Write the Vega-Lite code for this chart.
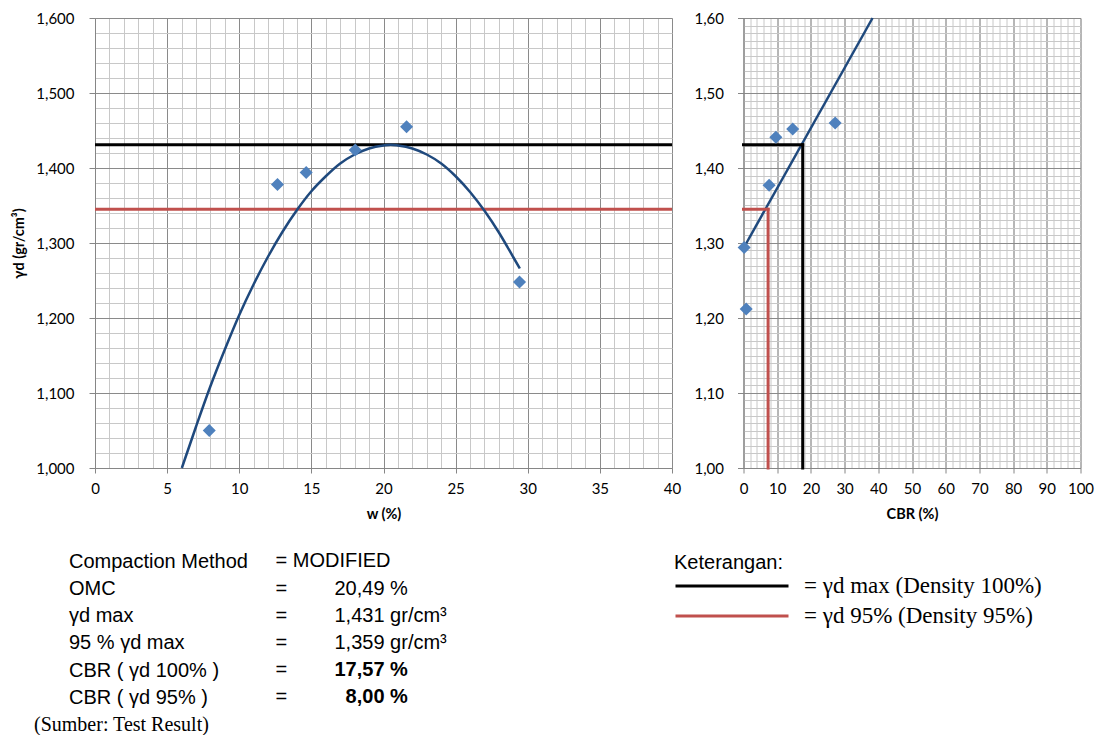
{
  "$schema": "https://vega.github.io/schema/vega-lite/v6.json",
  "padding": {"left": 11, "top": 11, "right": 5, "bottom": 0},
  "background": "white",
  "config": {
    "view": {"stroke": null},
    "axis": {
      "labelFont": "Lato", "labelFontSize": 15, "labelColor": "#000000",
      "titleFont": "Lato", "titleFontSize": 14.5, "titleFontWeight": "bold", "titleColor": "#000000",
      "domainColor": "#868686", "tickColor": "#868686", "gridColor": "#8a8a8a",
      "labelFlush": false, "labelOverlap": false
    }
  },
  "datasets": {
    "points_w": [
      {"w": 7.92, "gd": 1.050},
      {"w": 12.65, "gd": 1.378},
      {"w": 14.64, "gd": 1.394},
      {"w": 18.04, "gd": 1.424},
      {"w": 21.6, "gd": 1.455},
      {"w": 29.43, "gd": 1.248}
    ],
    "curve_w": [
      {"w": 6.02, "gd": 1.000}, {"w": 7, "gd": 1.055}, {"w": 8, "gd": 1.109}, {"w": 9, "gd": 1.158},
      {"w": 10, "gd": 1.204}, {"w": 11, "gd": 1.245}, {"w": 12, "gd": 1.282}, {"w": 13, "gd": 1.315},
      {"w": 14, "gd": 1.344}, {"w": 15, "gd": 1.369}, {"w": 16, "gd": 1.389}, {"w": 17, "gd": 1.406},
      {"w": 18, "gd": 1.418}, {"w": 19, "gd": 1.426}, {"w": 20, "gd": 1.430}, {"w": 20.5, "gd": 1.431},
      {"w": 21, "gd": 1.430}, {"w": 22, "gd": 1.426}, {"w": 23, "gd": 1.418}, {"w": 24, "gd": 1.406},
      {"w": 25, "gd": 1.389}, {"w": 26, "gd": 1.368}, {"w": 27, "gd": 1.343}, {"w": 28, "gd": 1.314},
      {"w": 29, "gd": 1.281}, {"w": 29.45, "gd": 1.266}
    ],
    "levels": [
      {"level": "γd max (Density 100%)", "gd": 1.431, "cbr": 17.57},
      {"level": "γd 95% (Density 95%)", "gd": 1.345, "cbr": 7.3}
    ],
    "points_cbr": [
      {"cbr": 0.2, "gd": 1.294},
      {"cbr": 0.8, "gd": 1.212},
      {"cbr": 7.6, "gd": 1.377},
      {"cbr": 9.6, "gd": 1.441},
      {"cbr": 14.6, "gd": 1.452},
      {"cbr": 27.2, "gd": 1.460}
    ],
    "line_cbr": [
      {"cbr": 0.0, "gd": 1.293},
      {"cbr": 38.3, "gd": 1.600}
    ],
    "summary": [
      {"param": "Compaction Method", "col": "sign", "text": "= MODIFIED"},
      {"param": "OMC", "col": "sign", "text": "="},
      {"param": "OMC", "col": "value", "text": "20,49 %"},
      {"param": "γd max", "col": "sign", "text": "="},
      {"param": "γd max", "col": "value", "text": "1,431 gr/cm³"},
      {"param": "95 % γd max", "col": "sign", "text": "="},
      {"param": "95 % γd max", "col": "value", "text": "1,359 gr/cm³"},
      {"param": "CBR ( γd 100% )", "col": "sign", "text": "="},
      {"param": "CBR ( γd 100% )", "col": "value", "text": "17,57 %"},
      {"param": "CBR ( γd 95% )", "col": "sign", "text": "="},
      {"param": "CBR ( γd 95% )", "col": "value", "text": "\u200b\u00a0\u00a08,00 %"}
    ]
  },
  "concat": [
    {
      "width": 577,
      "height": 450,
      "layer": [
        {
          "data": {"name": "levels"},
          "mark": {"type": "rule", "strokeWidth": 3},
          "encoding": {
            "y": {"field": "gd", "type": "quantitative", "scale": {"domain": [1, 1.6], "nice": false, "zero": false}, "axis": null},
            "color": {
              "field": "level", "type": "nominal",
              "scale": {"domain": ["γd max (Density 100%)", "γd 95% (Density 95%)"], "range": ["#000000", "#c0504d"]},
              "legend": {
                "title": "Keterangan:", "orient": "none", "legendX": 579, "legendY": 535, "direction": "vertical",
                "titleFont": "Liberation Sans", "titleFontSize": 20, "titleFontWeight": "normal", "titleColor": "#000000", "titlePadding": 0,
                "symbolType": "stroke", "symbolSize": 12769, "symbolStrokeWidth": 3,
                "clipHeight": 26, "rowPadding": 4, "padding": 0,
                "labelFont": "Liberation Serif", "labelFontSize": 23, "labelColor": "#000000", "labelOffset": 14, "labelLimit": 400,
                "labelExpr": "'= ' + datum.label"
              }
            }
          }
        },
        {
          "data": {"name": "curve_w"},
          "mark": {"type": "line", "color": "#1f497d", "strokeWidth": 2.5, "interpolate": "monotone"},
          "encoding": {
            "x": {"field": "w", "type": "quantitative", "scale": {"domain": [0, 40], "nice": false},
              "axis": {"orient": "top", "grid": true, "tickCount": 40, "gridColor": "#c8c8c8", "labels": false, "ticks": false, "domain": false, "title": null}},
            "y": {"field": "gd", "type": "quantitative", "scale": {"domain": [1, 1.6], "nice": false, "zero": false},
              "axis": {"orient": "right", "grid": true, "tickCount": 30, "gridColor": "#c8c8c8", "labels": false, "ticks": false, "domain": false, "title": null}}
          }
        },
        {
          "data": {"name": "points_w"},
          "mark": {"type": "point", "shape": "diamond", "filled": true, "size": 170, "color": "#4f81bd", "opacity": 1},
          "encoding": {
            "x": {"field": "w", "type": "quantitative", "scale": {"domain": [0, 40], "nice": false},
              "axis": {"orient": "bottom", "grid": true, "tickCount": 8, "title": "w (%)", "tickSize": 5, "labelPadding": 8, "titlePadding": 11}},
            "y": {"field": "gd", "type": "quantitative", "scale": {"domain": [1, 1.6], "nice": false, "zero": false},
              "axis": {"orient": "left", "grid": true, "tickCount": 6, "title": "γd (gr/cm³)", "tickSize": 6, "labelPadding": 15, "titlePadding": 9,
                "labelExpr": "replace(format(datum.value, '.3f'), '.', ',')"}}
          }
        }
      ],
      "resolve": {"axis": {"x": "independent", "y": "independent"}}
    },
    {
      "width": 337,
      "height": 450,
      "layer": [
        {
          "data": {"name": "line_cbr"},
          "mark": {"type": "line", "color": "#1f497d", "strokeWidth": 2.5},
          "encoding": {
            "x": {"field": "cbr", "type": "quantitative", "scale": {"domain": [0, 100], "nice": false},
              "axis": {"orient": "top", "grid": true, "tickCount": 50, "gridColor": "#c8c8c8", "labels": false, "ticks": false, "domain": false, "title": null}},
            "y": {"field": "gd", "type": "quantitative", "scale": {"domain": [1, 1.6], "nice": false, "zero": false},
              "axis": {"orient": "right", "grid": true, "tickCount": 60, "gridColor": "#c8c8c8", "labels": false, "ticks": false, "domain": false, "title": null}}
          }
        },
        {
          "data": {"name": "levels"},
          "mark": {"type": "rule", "strokeWidth": 3, "strokeCap": "square"},
          "encoding": {
            "x": {"field": "cbr", "type": "quantitative", "scale": {"domain": [0, 100], "nice": false}, "axis": null},
            "x2": {"datum": 0},
            "y": {"field": "gd", "type": "quantitative", "scale": {"domain": [1, 1.6], "nice": false, "zero": false}, "axis": null},
            "color": {"field": "level", "type": "nominal",
              "scale": {"domain": ["γd max (Density 100%)", "γd 95% (Density 95%)"], "range": ["#000000", "#c0504d"]}, "legend": null}
          }
        },
        {
          "data": {"name": "levels"},
          "mark": {"type": "rule", "strokeWidth": 3, "strokeCap": "square"},
          "encoding": {
            "x": {"field": "cbr", "type": "quantitative", "scale": {"domain": [0, 100], "nice": false}, "axis": null},
            "y": {"field": "gd", "type": "quantitative", "scale": {"domain": [1, 1.6], "nice": false, "zero": false}, "axis": null},
            "y2": {"datum": 1},
            "color": {"field": "level", "type": "nominal",
              "scale": {"domain": ["γd max (Density 100%)", "γd 95% (Density 95%)"], "range": ["#000000", "#c0504d"]}, "legend": null}
          }
        },
        {
          "data": {"name": "points_cbr"},
          "mark": {"type": "point", "shape": "diamond", "filled": true, "size": 170, "color": "#4f81bd", "opacity": 1},
          "encoding": {
            "x": {"field": "cbr", "type": "quantitative", "scale": {"domain": [0, 100], "nice": false},
              "axis": {"orient": "bottom", "grid": true, "tickCount": 10, "title": "CBR (%)", "tickSize": 5, "labelPadding": 8, "titlePadding": 11}},
            "y": {"field": "gd", "type": "quantitative", "scale": {"domain": [1, 1.6], "nice": false, "zero": false},
              "axis": {"orient": "left", "grid": true, "tickCount": 6, "title": null, "tickSize": 6, "labelPadding": 14,
                "labelExpr": "replace(format(datum.value, '.2f'), '.', ',')"}}
          }
        }
      ],
      "resolve": {"axis": {"x": "independent", "y": "independent"}}
    },
    {
      "width": 300,
      "height": 179.5,
      "data": {"name": "summary"},
      "encoding": {
        "y": {
          "field": "param", "type": "nominal",
          "scale": {"type": "point", "padding": 0.3,
            "domain": ["Compaction Method", "OMC", "γd max", "95 % γd max", "CBR ( γd 100% )", "CBR ( γd 95% )", "(Sumber: Test Result)"]},
          "axis": {
            "orient": "left", "title": null, "ticks": false, "tickSize": 0, "domain": false, "grid": false,
            "labelAlign": "left", "labelBaseline": "middle", "labelFontSize": 20, "labelColor": "#000000", "labelLimit": 400,
            "labelPadding": {"condition": {"test": "datum.value === '(Sumber: Test Result)'", "value": 61.5}, "value": 26.5},
            "labelFont": {"condition": {"test": "datum.value === '(Sumber: Test Result)'", "value": "Liberation Serif"}, "value": "Liberation Sans"}
          }
        },
        "x": {"field": "col", "type": "nominal",
          "scale": {"type": "point", "padding": 0, "domain": ["sign", "value"], "range": [180.5, 239.5]}, "axis": null},
        "text": {"field": "text"}
      },
      "layer": [
        {
          "transform": [{"filter": "!(datum.col === 'value' && indexof(datum.param, 'CBR') === 0)"}],
          "mark": {"type": "text", "align": "left", "baseline": "middle", "font": "Liberation Sans", "fontSize": 20, "color": "#000000"}
        },
        {
          "transform": [{"filter": "datum.col === 'value' && indexof(datum.param, 'CBR') === 0"}],
          "mark": {"type": "text", "align": "left", "baseline": "middle", "font": "Liberation Sans", "fontSize": 20, "fontWeight": "bold", "color": "#000000"}
        }
      ]
    }
  ],
  "columns": 2,
  "spacing": {"row": 85.2, "column": 71.5},
  "bounds": "flush",
  "resolve": {"scale": {"color": "independent"}, "legend": {"color": "independent"}}
}
